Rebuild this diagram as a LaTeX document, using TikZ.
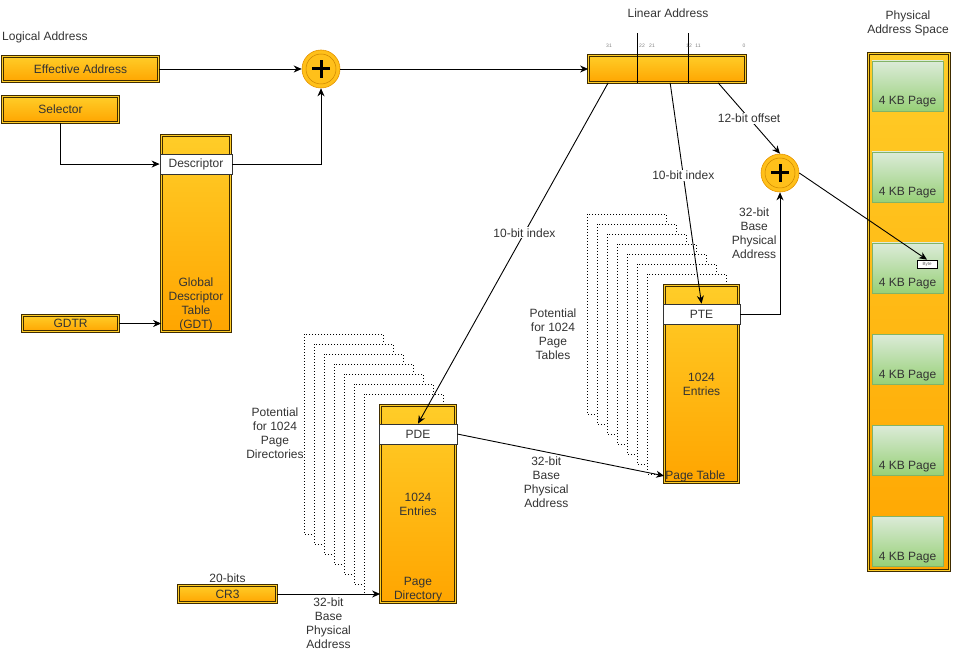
\documentclass[tikz,border=0pt]{standalone}
\usepackage{fontspec}
\setmainfont{Liberation Sans}
\usetikzlibrary{positioning,arrows.meta}

\definecolor{orgtop}{HTML}{FFCD28}
\definecolor{orgbot}{HTML}{FFA500}
\definecolor{orgline}{HTML}{3F2C00}
\definecolor{plusfill}{HTML}{FFC01A}
\definecolor{grntop}{HTML}{DCEBD9}
\definecolor{grnbot}{HTML}{97D077}
\definecolor{grnline}{HTML}{82B366}

\begin{document}
\begin{tikzpicture}[x=1pt, y=-1pt, font=\fontsize{12}{14}\selectfont, text=black!80,
  obox/.style={draw=orgline, line width=0.7pt, double=orgtop, double distance=1.6pt, top color=orgtop, bottom color=orgbot, inner sep=0pt, align=center},
  band/.style={draw=black!80, line width=0.8pt, fill=white, minimum height=20pt, inner sep=0pt},
  plus/.style={circle, minimum size=38pt, inner sep=0pt, draw=orgbot!90!black, line width=0.6pt, fill=plusfill,
    path picture={\draw[orgbot!80!black, line width=0.5pt] (path picture bounding box.center) circle[radius=15pt];
      \draw[line width=3pt, black] ([xshift=-9pt]path picture bounding box.center) -- ([xshift=9pt]path picture bounding box.center)
        ([yshift=-9pt]path picture bounding box.center) -- ([yshift=9pt]path picture bounding box.center);}},
  conn/.style={line width=0.9pt, -{Stealth[length=8pt, width=7pt, inset=2.5pt]}},
  lbl/.style={fill=white, inner sep=1pt, align=center},
  txt/.style={inner sep=1pt, align=center},
  bits/.style={inner sep=0pt, text=black!50, font=\fontsize{5}{6}\selectfont},
  stack/.style={draw=black, dash pattern=on 1pt off 2pt, line width=0.9pt, fill=white},
  page/.style={draw=grnline, line width=0.8pt, top color=grntop, bottom color=grnbot, minimum width=71pt, inner sep=0pt, text height=44pt, text depth=6pt}]
\useasboundingbox (0,0) rectangle (953,652);

\node[txt, anchor=west] (loglbl) at (1,37) {Logical Address};
\node[obox, minimum width=156pt, minimum height=25pt] (ea) at (80.5,69) {Effective Address};
\node[obox, minimum width=116pt, minimum height=26pt] (sel) at (60.5,109.5) {Selector};
\node[obox, minimum width=69pt, minimum height=196pt, label={[txt, anchor=south]south:Global\\Descriptor\\Table\\(GDT)}] (gdt) at (196,233.5) {};
\node[band, minimum width=72pt, below=18.5pt of gdt.north] (desc) {Descriptor};
\node[obox, minimum width=96pt, minimum height=16pt] (gdtr) at (70.5,323.5) {GDTR};
\node[plus] (plusA) at (321,69) {};

\node[txt] (linlbl) at (668,13) {Linear Address};
\node[obox, minimum width=157pt, minimum height=27pt] (lin) at (667,69) {};
\draw[line width=0.9pt] ([xshift=49pt]lin.south west) -- ++(0,-50) ([xshift=100pt]lin.south west) -- ++(0,-50);
\foreach \bx/\bt in {609/31,642/22,652/21,689/12,698/11,744/0}
  \node[bits] (b\bt) at (\bx,46) {\bt};

\foreach \i in {0,...,6}
  \draw[stack] (587+10*\i,214+10*\i) rectangle ++(79,200);
\node[obox, minimum width=74pt, minimum height=197pt, label={[txt, anchor=south west]south west:Page Table}] (pt) at (701.5,384) {1024\\Entries};
\node[band, minimum width=77pt, below=18.5pt of pt.north] (pte) {PTE};
\node[txt] (ptlbl) at (553,334) {Potential\\for 1024\\Page\\Tables};

\foreach \i in {0,...,6}
  \draw[stack] (304+10*\i,334+10*\i) rectangle ++(79,200);
\node[obox, minimum width=75pt, minimum height=197pt, label={[txt, anchor=south]south:Page\\Directory}] (pd) at (418,504) {1024\\Entries};
\node[band, minimum width=78pt, below=18.5pt of pd.north] (pde) {PDE};
\node[txt] (pdlbl) at (275,433) {Potential\\for 1024\\Page\\Directories};

\node[obox, minimum width=98pt, minimum height=17pt] (cr3) at (227.5,594) {CR3};
\node[txt, above=1pt of cr3] (cr3lbl) {20-bits};

\node[plus] (plusB) at (780,173) {};

\node[txt] (physlbl) at (908,23) {Physical\\Address Space};
\node[obox, minimum width=81pt, minimum height=517pt] (phys) at (909,312) {};
\foreach \i in {0,...,5}
  \node[page] (pg\i) at (907.5,86+91*\i) {4 KB Page};
\node[draw=black, fill=white, line width=0.6pt, font=\fontsize{4.5}{5}\selectfont, text=black!60, minimum width=20pt, minimum height=8pt, inner sep=0pt] (byte) at (927,264) {Byte};

\draw[conn] (ea.east) -- (plusA.west);
\draw[conn] (sel.south) |- (desc.west);
\draw[conn] (desc.east) -| (plusA.south);
\draw[conn] (gdtr.east) -- (gdtr.east -| gdt.west);
\draw[conn] (plusA.east) -- (lin.west);
\draw[conn] ([xshift=20pt]lin.south west) -- (pde.north) node[lbl, pos=0.44] {10-bit index};
\draw[conn] ([xshift=82pt]lin.south west) -- (pte.north) node[lbl, pos=0.42] {10-bit index};
\draw[conn] ([xshift=130pt]lin.south west) -- (plusB.north) node[lbl, midway] {12-bit offset};
\draw[conn] (pte.east) -| (plusB.south) node[txt, pos=0.83, left=2pt] {32-bit\\Base\\Physical\\Address};
\draw[conn] (plusB.east) -- (byte.north);
\draw[conn] (pde.east) -- ([yshift=7pt]pt.south west) node[txt, pos=0.43, below=3pt] {32-bit\\Base\\Physical\\Address};
\draw[conn] (cr3.east) -- (cr3.east -| pd.west) node[txt, midway, below=2pt] {32-bit\\Base\\Physical\\Address};
\end{tikzpicture}
\end{document}
